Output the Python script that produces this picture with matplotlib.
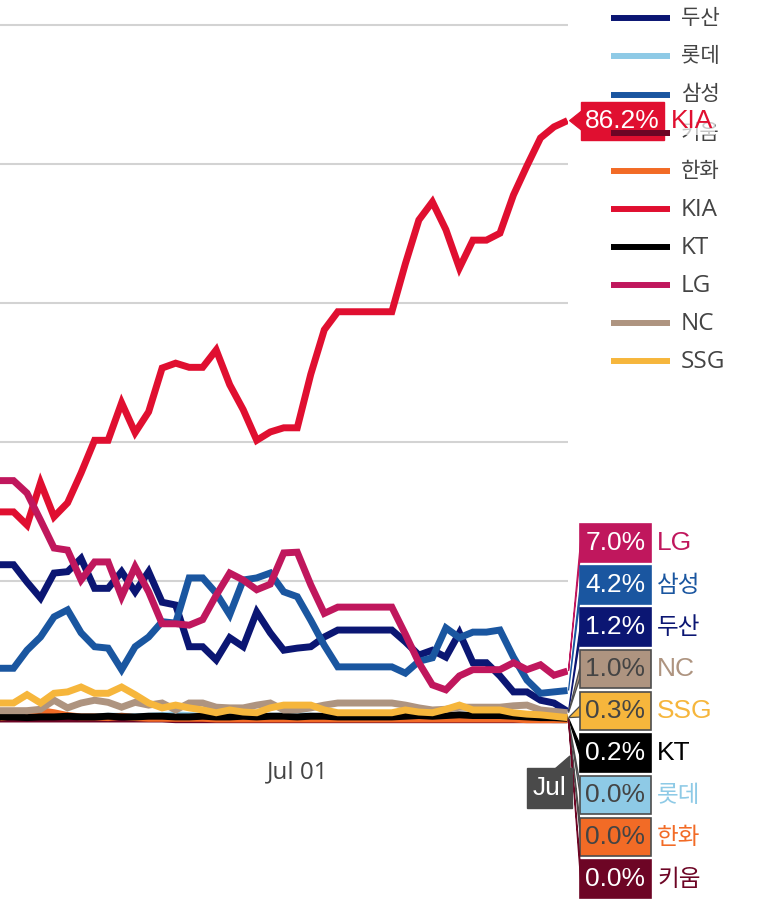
import numpy as np
import pandas as pd
import matplotlib
matplotlib.use("Agg")
import matplotlib.pyplot as plt
from matplotlib.patches import Rectangle, Polygon

# ---------------------------------------------
# KBO 2024 - postseason / pennant chances per team
# ---------------------------------------------

dates = pd.date_range("2024-06-09", "2024-07-21", freq="D")

teams = ["두산", "롯데", "삼성", "키움", "한화", "KIA", "KT", "LG", "NC", "SSG"]
colors = ["#0b1673", "#8ecae6", "#1a56a0", "#6d0525", "#f26b26",
          "#e00f30", "#000000", "#c0175d", "#ae9480", "#f6b63c"]

doosan = [22.3, 22.3, 19.8, 17.5, 21.1, 21.3, 23.2, 18.9, 18.9, 21.3,
          18.4, 21.3, 16.9, 16.5, 10.5, 10.5, 8.6, 11.8, 10.5, 15.5,
          12.5, 10.0, 10.3, 10.5, 11.9, 12.9, 12.9, 12.9, 12.9, 12.9,
          11.2, 9.3, 10.0, 9.0, 12.5, 8.2, 8.2, 6.3, 4.0, 4.0,
          2.8, 2.4, 1.2]
lotte = [0.5, 0.5, 0.6, 0.6, 0.5, 0.5, 0.4, 0.4, 0.5, 0.5,
         0.4, 0.5, 0.6, 0.7, 0.6, 0.5, 0.5, 0.4, 0.4, 0.4,
         0.5, 0.5, 0.6, 0.5, 0.4, 0.4, 0.4, 0.4, 0.4, 0.4,
         0.3, 0.3, 0.3, 0.3, 0.3, 0.2, 0.2, 0.2, 0.1, 0.1,
         0.1, 0.0, 0.0]
samsung = [7.4, 7.4, 10.0, 11.9, 14.8, 15.8, 12.5, 10.5, 10.3, 7.2,
           10.5, 11.9, 14.1, 13.9, 20.4, 20.4, 18.2, 15.1, 20.1, 20.4,
           21.1, 18.4, 17.7, 14.3, 10.7, 7.6, 7.6, 7.6, 7.6, 7.6,
           6.7, 8.4, 8.9, 13.2, 11.8, 12.6, 12.6, 12.9, 9.0, 5.7,
           3.8, 4.0, 4.2]
kiwoom = [0.1, 0.1, 0.1, 0.1, 0.1, 0.1, 0.1, 0.1, 0.1, 0.1,
          0.1, 0.1, 0.1, 0.0, 0.0, 0.0, 0.0, 0.0, 0.0, 0.0,
          0.0, 0.0, 0.0, 0.0, 0.0, 0.0, 0.0, 0.0, 0.0, 0.0,
          0.0, 0.0, 0.0, 0.0, 0.0, 0.0, 0.0, 0.0, 0.0, 0.0,
          0.0, 0.0, 0.0]
hanwha = [0.3, 0.6, 1.2, 1.3, 1.0, 0.6, 0.4, 0.4, 0.3, 0.5,
          0.3, 0.2, 0.2, 0.2, 0.2, 0.2, 0.1, 0.1, 0.1, 0.1,
          0.1, 0.1, 0.1, 0.1, 0.1, 0.1, 0.1, 0.1, 0.1, 0.1,
          0.1, 0.1, 0.1, 0.1, 0.1, 0.1, 0.1, 0.1, 0.1, 0.0,
          0.0, 0.0, 0.0]
kia = [29.9, 29.9, 28.0, 34.1, 29.2, 31.2, 35.5, 40.2, 40.2, 45.6,
       41.3, 44.3, 50.6, 51.3, 50.7, 50.7, 53.2, 48.2, 44.6, 40.2,
       41.4, 42.0, 42.0, 49.7, 56.1, 58.7, 58.7, 58.7, 58.7, 58.7,
       65.6, 71.9, 74.5, 70.5, 65.0, 69.0, 69.0, 70.0, 75.5, 79.7,
       83.7, 85.3, 86.2]
kt = [0.4, 0.4, 0.3, 0.4, 0.4, 0.5, 0.4, 0.4, 0.5, 0.4,
      0.4, 0.5, 0.5, 0.4, 0.4, 0.5, 0.4, 0.4, 0.5, 0.4,
      0.5, 0.5, 0.4, 0.5, 0.5, 0.4, 0.4, 0.4, 0.4, 0.4,
      0.5, 0.6, 0.5, 0.6, 0.7, 0.6, 0.6, 0.6, 0.5, 0.4,
      0.3, 0.3, 0.2]
lg = [34.4, 34.4, 32.6, 28.7, 24.7, 24.4, 20.1, 22.7, 22.7, 17.7,
      22.0, 18.4, 13.8, 13.8, 13.6, 14.4, 17.9, 21.1, 20.1, 18.7,
      19.5, 24.0, 24.1, 19.4, 15.3, 16.2, 16.2, 16.2, 16.2, 16.2,
      12.3, 8.2, 5.0, 4.3, 6.3, 7.2, 7.2, 7.2, 8.2, 7.2,
      7.9, 6.4, 7.0]
nc = [1.3, 1.3, 1.3, 1.5, 2.8, 1.7, 2.4, 2.8, 2.5, 1.8,
      2.5, 2.1, 2.4, 1.4, 2.4, 2.4, 1.8, 1.7, 1.7, 2.1,
      2.4, 1.4, 1.4, 1.7, 2.1, 2.4, 2.4, 2.4, 2.4, 2.4,
      2.1, 1.7, 1.4, 1.5, 1.8, 1.8, 1.8, 1.8, 2.0, 2.1,
      1.4, 1.2, 1.0]
ssg = [2.4, 2.4, 3.6, 2.4, 3.8, 4.0, 4.7, 3.8, 3.8, 4.7,
       3.6, 2.4, 1.7, 2.1, 1.7, 1.4, 1.0, 1.4, 1.1, 1.0,
       1.7, 2.1, 2.1, 2.1, 1.4, 1.0, 1.0, 1.0, 1.0, 1.0,
       1.4, 1.1, 1.0, 1.5, 2.1, 1.4, 1.4, 1.4, 1.0, 0.8,
       0.7, 0.5, 0.3]

series = [doosan, lotte, samsung, kiwoom, hanwha, kia, kt, lg, nc, ssg]

# order of the stacked hover labels at the right (KIA gets its own label)
label_order = ["LG", "삼성", "두산", "NC", "SSG", "KT", "롯데", "한화", "키움"]
# labels on light boxes use dark text
light_boxes = ["NC", "SSG", "롯데", "한화"]

x_tick = pd.Timestamp("2024-07-01")

LATIN = ["Open Sans", "Noto Sans CJK KR"]
KOREAN = ["Noto Sans CJK KR", "DejaVu Sans"]
BOXFONT = ["Liberation Sans", "Noto Sans CJK KR"]


def is_korean(s):
    return any("\uac00" <= c <= "\ud7a3" for c in s)


# ---------------------------------------------
W, H = 778, 906
fig = plt.figure(figsize=(W / 100, H / 100), dpi=100)

# main axes: y pixel (from top) = 719.7 - 6.95 * value
y_lo, y_hi = -2, 103
top_px = 719.7 - 6.95 * y_hi
bot_px = 719.7 - 6.95 * y_lo
ax = fig.add_axes([0, (H - bot_px) / H, 567.5 / W, (bot_px - top_px) / H])

for k, (name, vals) in enumerate(zip(teams, series)):
    ax.plot(dates, vals, color=colors[k], lw=5.0, zorder=3 + k * 0.1,
            solid_joinstyle="miter", solid_capstyle="butt")

ax.set_xlim(dates[0], dates[-1])
ax.set_ylim(y_lo, y_hi)
ax.set_yticks([20, 40, 60, 80, 100])
ax.grid(axis="y", color="#d3d3d3", lw=1.5, zorder=0)
ax.tick_params(axis="y", left=False, labelleft=False)
ax.set_xticks([x_tick])
ax.set_xticklabels(["Jul 01"], family=LATIN)
ax.tick_params(axis="x", length=0, pad=19, labelsize=17.5, labelcolor="#444444")
for s in ax.spines.values():
    s.set_visible(False)

# overlay axes in pixel coordinates for legend and hover labels
ov = fig.add_axes([0, 0, 1, 1], zorder=10)
ov.set_xlim(0, W)
ov.set_ylim(H, 0)
ov.axis("off")
ov.patch.set_alpha(0)


def to_px(date, value):
    disp = ax.transData.transform((matplotlib.dates.date2num(date), value))
    return ov.transData.inverted().transform(disp)


# legend
for k, name in enumerate(teams):
    y = 18.3 + 38.1 * k
    ov.plot([611, 670], [y, y], color=colors[k], lw=4.3, solid_capstyle="butt")
    if is_korean(name):
        ov.text(681, y, name, fontsize=15.2, family=KOREAN, color="#444444",
                va="center", ha="left")
    else:
        ov.text(681, y + 1, name, fontsize=17.5, family=LATIN, color="#444444",
                va="center", ha="left")

# KIA hover label
k = teams.index("KIA")
tx, ty = to_px(dates[-1], kia[-1])
ov.add_patch(Polygon([(tx + 2, ty), (582, ty - 10), (582, ty + 10)],
                     closed=True, fc=colors[k], ec=colors[k], lw=0.8))
ov.add_patch(Rectangle((581, 102), 83, 38, fc=colors[k], ec=colors[k]))
ov.text(622.5, 121.5, f"{kia[-1]:.1f}%", fontsize=19, family=BOXFONT,
        color="white", ha="center", va="center")
ov.text(671, 121.5, "KIA", fontsize=19, family=BOXFONT, color=colors[k],
        ha="left", va="center",
        bbox=dict(boxstyle="square,pad=0.05", fc="white", ec="none", alpha=0.7))

# stacked hover labels for the rest
for j, name in enumerate(label_order):
    k = teams.index(name)
    vals = series[k]
    yc = 543 + 42 * j
    tx, ty = to_px(dates[-1], vals[-1])
    light = name in light_boxes
    edge = "#4d4d4d" if light else colors[k]
    ov.add_patch(Polygon([(tx + 1, ty), (581, yc - 6), (581, yc + 6)],
                         closed=True, fc=colors[k], ec=edge, lw=0.9))
    ov.add_patch(Rectangle((580, yc - 19), 71, 38, fc=colors[k], ec=edge, lw=1.2))
    ov.text(615.5, yc, f"{vals[-1]:.1f}%", fontsize=19, family=BOXFONT,
            color="#444444" if light else "white", ha="center", va="center")
    if is_korean(name):
        ov.text(657, yc, name, fontsize=17, family=KOREAN, color=colors[k],
                ha="left", va="center")
    else:
        ov.text(657, yc, name, fontsize=19, family=BOXFONT, color=colors[k],
                ha="left", va="center")

# x hover label
ov.add_patch(Polygon([(555, 769), (570, 756), (570, 769)], closed=True,
                     fc="#4a4a4a", ec="#4a4a4a"))
ov.add_patch(Rectangle((527, 768), 45, 40, fc="#4a4a4a", ec="#4a4a4a"))
ov.text(549.5, 788, "Jul", fontsize=19, family=BOXFONT, color="white",
        ha="center", va="center")

fig.savefig("out.png", dpi=100)
